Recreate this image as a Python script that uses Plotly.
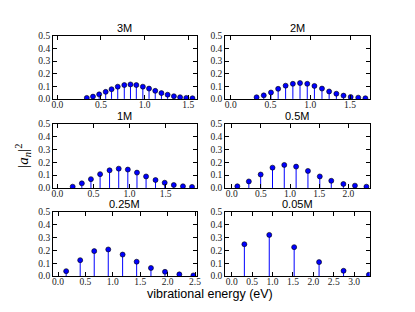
import plotly.graph_objects as go

titles = ["3M", "2M", "1M", "0.5M", "0.25M", "0.05M"]

x_3M = [0.337, 0.408, 0.479, 0.554, 0.621, 0.692, 0.767, 0.838, 0.905, 0.980,
        1.051, 1.122, 1.193, 1.264, 1.336, 1.407, 1.478, 1.549]
y_3M = [0.008, 0.018, 0.036, 0.056, 0.077, 0.097, 0.110, 0.115, 0.110, 0.097,
        0.082, 0.064, 0.046, 0.033, 0.021, 0.013, 0.008, 0.005]

x_2M = [0.325, 0.415, 0.506, 0.596, 0.690, 0.781, 0.871, 0.962, 1.052, 1.147,
        1.237, 1.328, 1.418, 1.508, 1.603, 1.693]
y_2M = [0.013, 0.028, 0.051, 0.080, 0.105, 0.120, 0.126, 0.120, 0.103, 0.082,
        0.059, 0.041, 0.026, 0.015, 0.010, 0.005]

x_1M = [0.212, 0.339, 0.465, 0.592, 0.723, 0.850, 0.976, 1.103, 1.229, 1.360,
        1.487, 1.613, 1.740, 1.866]
y_1M = [0.010, 0.036, 0.069, 0.108, 0.138, 0.151, 0.144, 0.120, 0.090, 0.062,
        0.041, 0.023, 0.013, 0.008]

x_05M = [0.096, 0.293, 0.496, 0.699, 0.901, 1.104, 1.307, 1.510, 1.707, 1.915,
         2.113, 2.310]
y_05M = [0.013, 0.051, 0.105, 0.159, 0.180, 0.167, 0.133, 0.090, 0.056, 0.031,
         0.018, 0.010]

x_025M = [0.149, 0.405, 0.661, 0.917, 1.179, 1.435, 1.696, 1.952, 2.214, 2.470]
y_025M = [0.038, 0.124, 0.195, 0.208, 0.168, 0.112, 0.063, 0.033, 0.013, 0.005]

x_005M = [0.31, 0.92, 1.53, 2.14, 2.74, 3.36]
y_005M = [0.249, 0.322, 0.226, 0.109, 0.041, 0.010]

y_ticks = [0.0, 0.1, 0.2, 0.3, 0.4, 0.5]

series = [(x_3M, y_3M), (x_2M, y_2M), (x_1M, y_1M),
          (x_05M, y_05M), (x_025M, y_025M), (x_005M, y_005M)]

W, H = 415, 312
col_px = [(52, 198), (227, 374)]
row_px = [(32, 97), (123, 189), (214, 280)]
xranges = [(-0.049, 1.597), (-0.07, 1.747), (-0.059, 1.93),
           (-0.113, 2.366), (-0.089, 2.53), (-0.16, 3.38)]

tickfont = dict(family="Liberation Serif", size=9.5, color="#222")

fig = go.Figure()
layout = dict(width=W, height=H, margin=dict(l=0, r=0, t=0, b=0),
              paper_bgcolor="white", plot_bgcolor="white", showlegend=False)
annotations = []

for i, ((xv, yv), title) in enumerate(zip(series, titles)):
    n = i + 1
    r, c = divmod(i, 2)
    xs, ys = [], []
    for a, b in zip(xv, yv):
        xs += [a, a, None]
        ys += [0, b, None]
    xa = "x" if n == 1 else f"x{n}"
    ya = "y" if n == 1 else f"y{n}"
    fig.add_trace(go.Scatter(x=xs, y=ys, mode="lines", xaxis=xa, yaxis=ya,
                             line=dict(color="#0000ff", width=1), hoverinfo="skip"))
    fig.add_trace(go.Scatter(x=xv, y=yv, mode="markers", xaxis=xa, yaxis=ya,
                             marker=dict(color="#0000ff", size=5,
                                         line=dict(color="black", width=0.6))))
    x0, x1 = col_px[c]
    y0, y1 = row_px[r]
    dx = [x0 / W, x1 / W]
    dy = [1 - y1 / H, 1 - y0 / H]
    common = dict(showline=True, linecolor="black", linewidth=1, mirror="ticks",
                  ticks="inside", ticklen=4, tickcolor="black", tickwidth=1,
                  showgrid=False, zeroline=False, tickfont=tickfont)
    layout["xaxis" if n == 1 else f"xaxis{n}"] = dict(
        domain=dx, anchor=ya, range=list(xranges[i]), tick0=0, dtick=0.5,
        tickformat=".1f", ticklabelstandoff=-3, **common)
    layout["yaxis" if n == 1 else f"yaxis{n}"] = dict(
        domain=dy, anchor=xa, range=[0, 0.5], tickvals=y_ticks,
        tickformat=".1f", **common)
    annotations.append(dict(text=title, x=(dx[0] + dx[1]) / 2, y=1 - (y0 - 1) / H,
                            xref="paper", yref="paper", xanchor="center", yanchor="bottom",
                            borderpad=0, showarrow=False,
                            font=dict(family="Liberation Sans", size=11, color="black")))

annotations.append(dict(text="vibrational energy (eV)", x=211.5 / W, y=1 - 299 / H,
                        xref="paper", yref="paper", xanchor="center", yanchor="middle",
                        showarrow=False,
                        font=dict(family="Liberation Sans", size=12.5, color="black")))
annotations.append(dict(text="|<i>a</i><sub><i>n</i></sub>|<sup>2</sup>",
                        x=21 / W, y=1 - 156 / H, textangle=-90,
                        xref="paper", yref="paper", xanchor="center", yanchor="middle",
                        showarrow=False,
                        font=dict(family="Liberation Serif", size=15, color="black")))
layout["annotations"] = annotations
fig.update_layout(**layout)
fig.write_html("out.html", config={"displayModeBar": False},
               post_script="document.body.style.margin='0px';")
